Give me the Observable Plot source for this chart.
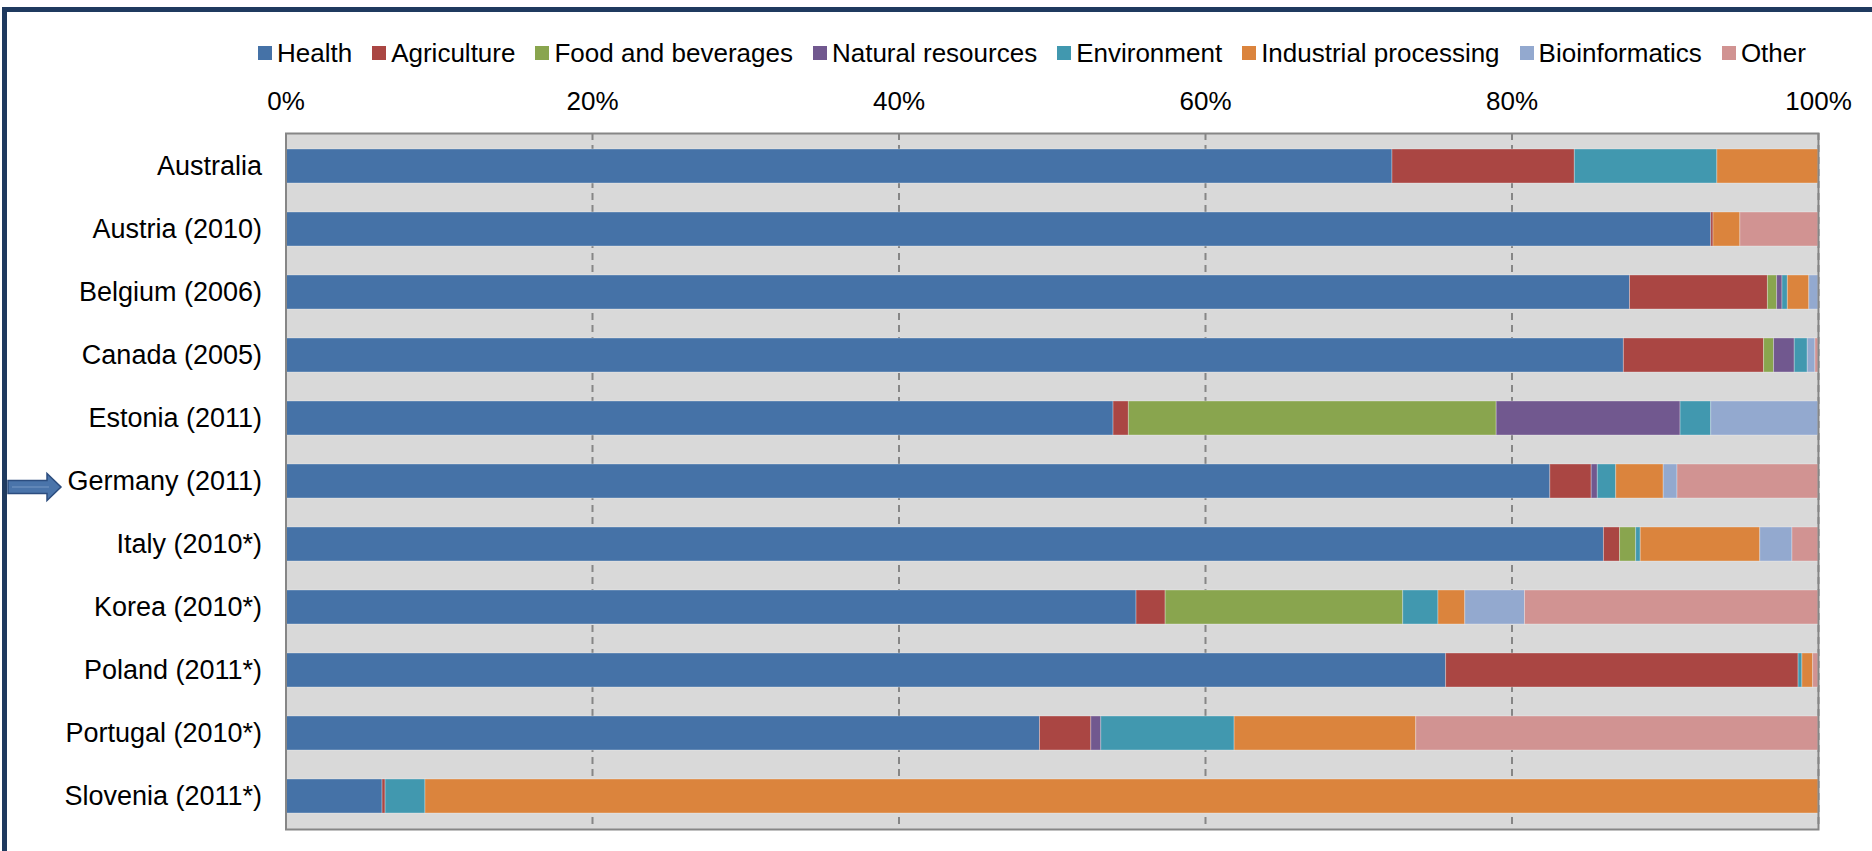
<!DOCTYPE html>
<html>
<head>
<meta charset="utf-8">
<script src="https://cdn.jsdelivr.net/npm/d3@7"></script>
<script src="https://cdn.jsdelivr.net/npm/@observablehq/plot@0.6"></script>
<style>
  html, body { margin: 0; padding: 0; background: #fff; overflow: hidden; }
  #wrap { position: relative; width: 1872px; height: 851px; font-family: "Liberation Sans", Arial, sans-serif; }
  #border { position: absolute; left: 2px; top: 7px; width: 1900px; height: 900px; border-top: 5px solid #1F3A5F; border-left: 5px solid #1F3A5F; }
  #legend { position: absolute; left: 258px; top: 38px; height: 30px; display: flex; align-items: center; gap: 20px; font-size: 26px; color: #000; white-space: nowrap; }
  #legend .item { display: flex; align-items: center; gap: 5px; }
  #legend .sw { width: 14px; height: 14px; display: inline-block; }
  #chart { position: absolute; left: 0; top: 0; }
  #arrow { position: absolute; left: 0; top: 0; }
</style>
</head>
<body>
<div id="wrap">
  <div id="border"></div>
  <div id="chart"></div>
  <div id="legend"></div>
  <svg id="arrow" width="80" height="851"></svg>
</div>
<script>
const countries = ["Australia", "Austria (2010)", "Belgium (2006)", "Canada (2005)", "Estonia (2011)", "Germany (2011)", "Italy (2010*)", "Korea (2010*)", "Poland (2011*)", "Portugal (2010*)", "Slovenia (2011*)"];
const seriesNames = ["Health", "Agriculture", "Food and beverages", "Natural resources", "Environment", "Industrial processing", "Bioinformatics", "Other"];
const seriesColors = ["#4572A7", "#AA4643", "#89A54E", "#71588F", "#4198AF", "#DB843D", "#93A9CF", "#D19392"];

const health        = [72.2, 93.0, 87.7, 87.3, 54.0, 82.5, 86.0, 55.5, 75.7, 49.2, 6.3];
const agriculture   = [11.9, 0.15, 9.0, 9.15, 1.0, 2.7, 1.05, 1.9, 23.0, 3.35, 0.2];
const food          = [0, 0, 0.6, 0.65, 24.0, 0, 1.05, 15.5, 0, 0, 0];
const natural       = [0, 0, 0.35, 1.35, 12.0, 0.4, 0, 0, 0, 0.65, 0];
const environment   = [9.3, 0, 0.35, 0.85, 2.0, 1.2, 0.3, 2.3, 0.25, 8.7, 2.6];
const industrial    = [6.6, 1.75, 1.4, 0, 0, 3.1, 7.8, 1.75, 0.7, 11.85, 90.9];
const bioinformatics= [0, 0, 0.6, 0.5, 7.0, 0.9, 2.1, 3.9, 0, 0, 0];
const other         = [0, 5.1, 0, 0.2, 0, 9.2, 1.7, 19.15, 0.35, 26.25, 0];

const xTicks = [0, 20, 40, 60, 80, 100];
const highlighted = "Germany (2011)";

const seriesValues = [health, agriculture, food, natural, environment, industrial, bioinformatics, other];
const rows = [];
seriesValues.forEach((vals, si) => {
  vals.forEach((v, ci) => {
    if (v > 0) rows.push({country: countries[ci], series: seriesNames[si], value: v});
  });
});

const W = 1872, H = 851;
const chart = Plot.plot({
  width: W,
  height: H,
  marginTop: 133,
  marginBottom: 22,
  marginLeft: 285.5,
  marginRight: 54,
  style: {fontFamily: "'Liberation Sans', Arial, sans-serif", fontSize: "26px", color: "#000", background: "transparent"},
  x: {domain: [0, 100], ticks: xTicks},
  y: {domain: countries, paddingInner: 0.46, paddingOuter: 0.23},
  color: {domain: seriesNames, range: seriesColors},
  marks: [
    Plot.frame({fill: "#D9D9D9", stroke: null}),
    Plot.ruleX(xTicks.filter(d => d > 0), {stroke: "#868686", strokeWidth: 2, strokeDasharray: "7,5"}),
    Plot.barX(rows, Plot.stackX({order: null}, {
      x: "value", y: "country", fill: "series",
      stroke: "#ffffff", strokeOpacity: 0.3, strokeWidth: 1
    })),
    Plot.frame({stroke: "#868686", strokeWidth: 2}),
    Plot.axisX({anchor: "top", ticks: xTicks, tickSize: 0, tickPadding: 24, tickFormat: d => d + "%", fill: "#000", fontSize: 26, label: null}),
    Plot.axisY({anchor: "left", tickSize: 0, tickPadding: 24, fill: "#000", fontSize: 27, label: null})
  ]
});
document.getElementById("chart").appendChild(chart);

// legend
const legend = document.getElementById("legend");
seriesNames.forEach((name, i) => {
  const item = document.createElement("span");
  item.className = "item";
  const sw = document.createElement("span");
  sw.className = "sw";
  sw.style.background = seriesColors[i];
  const t = document.createElement("span");
  t.textContent = name;
  item.appendChild(sw);
  item.appendChild(t);
  legend.appendChild(item);
});

// arrow pointing at the highlighted row
const yScale = chart.scale("y");
let cy;
if (yScale && typeof yScale.apply === "function") {
  cy = yScale.apply(highlighted) + (yScale.bandwidth || 0) / 2 + 6;
} else {
  const sb = d3.scaleBand().domain(countries).range([133, H - 22]).paddingInner(0.46).paddingOuter(0.23);
  cy = sb(highlighted) + sb.bandwidth() / 2 + 6;
}
const ar = d3.select("#arrow");
const x0 = 8, xb = 47, xt = 61, hs = 6.5, hh = 13.5;
ar.append("path")
  .attr("d", `M${x0},${cy - hs} L${xb},${cy - hs} L${xb},${cy - hh} L${xt},${cy} L${xb},${cy + hh} L${xb},${cy + hs} L${x0},${cy + hs} Z`)
  .attr("fill", "#4A74AA")
  .attr("stroke", "#2C4D7F")
  .attr("stroke-width", 1.5);
ar.append("line")
  .attr("x1", x0 + 4).attr("x2", xb + 2).attr("y1", cy).attr("y2", cy)
  .attr("stroke", "#7C9CC8").attr("stroke-width", 1.5).attr("opacity", 0.6);
</script>
</body>
</html>
